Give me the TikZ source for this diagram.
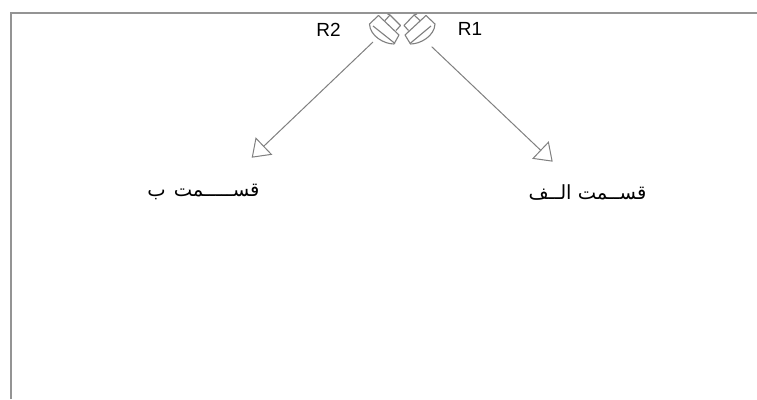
\documentclass[tikz,border=0pt]{standalone}
\usepackage{fontspec}
\setmainfont{Liberation Sans}
\newfontfamily\arabicfont[Script=Arabic]{DejaVu Sans}
\TeXXeTstate=1
\usetikzlibrary{arrows.meta}
\definecolor{framegray}{gray}{0.58}
\definecolor{linegray}{gray}{0.5}
\tikzset{
  frameline/.style={draw=framegray,line width=2pt},
  mirrorline/.style={draw=linegray,line width=1.1pt,line join=round},
  ray/.style={draw=linegray,line width=1pt,-{Triangle[open,length=17pt,width=24pt,line width=1pt]}},
  latinlabel/.style={inner sep=0pt,text=black,font=\fontsize{19}{22}\selectfont},
  farsilabel/.style={inner sep=0pt,text=black,font=\arabicfont\fontsize{19.5}{24}\selectfont}
}
\begin{document}
\begin{tikzpicture}[x=1pt,y=-1pt]
\useasboundingbox (0,0) rectangle (757,399);
\fill[white] (0,0) rectangle (757,399);
\draw[frameline] (10.5,399) -- (10.5,13) -- (757,13);
% left mirror (R2)
\draw[mirrorline] (369.5,24) -- (378.5,15.5) -- (399,35) -- (394,44)
  .. controls (384,44) and (370,36) .. (369.5,24) -- cycle;
\draw[mirrorline] (373,26) -- (395,43.5);
\draw[mirrorline] (385,20.5) -- (390,15) -- (400.5,25.5) -- (396,30.5);
\draw[mirrorline] (387.5,14) -- (390,15);
% right mirror (R1)
\draw[mirrorline] (435,24) -- (426,15.5) -- (405,35) -- (410.5,44)
  .. controls (420.5,44) and (434.5,36) .. (435,24) -- cycle;
\draw[mirrorline] (431,26) -- (410,43.5);
\draw[mirrorline] (420,20.5) -- (414,15) -- (404,25.5) -- (408.5,30.5);
\draw[mirrorline] (417,14) -- (414,15);
\node[latinlabel] (rtwo) at (328.5,30) {R2};
\node[latinlabel] (rone) at (470,29) {R1};
\coordinate (srcleft) at (373,42);
\coordinate (srcright) at (431.7,46.7);
\coordinate (tipleft) at (251.7,157.7);
\coordinate (tipright) at (552.7,161.7);
\draw[ray] (srcleft) -- (tipleft);
\draw[ray] (srcright) -- (tipright);
\node[farsilabel] (partb) at (203.5,191.5) {\beginR قســـــمت\hspace*{8pt}ب\endR};
\node[farsilabel] (parta) at (587.5,193) {\beginR قســمت الــف\endR};
\end{tikzpicture}
\end{document}
